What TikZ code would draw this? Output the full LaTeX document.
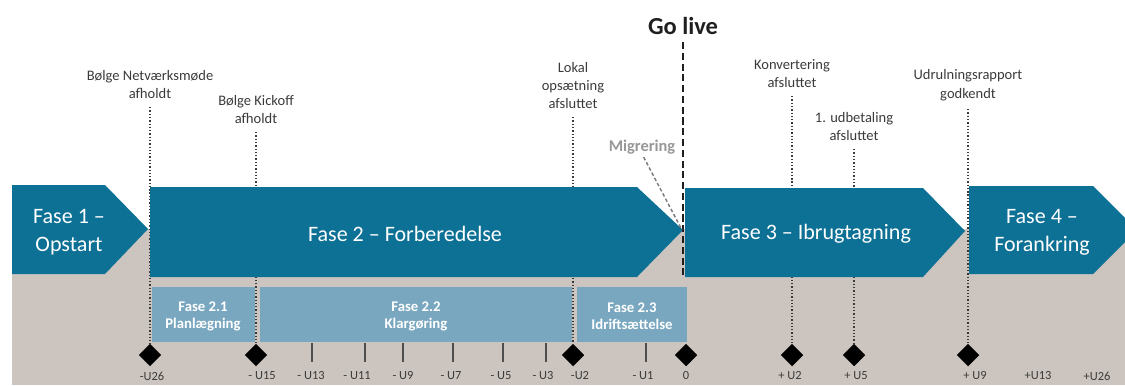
\documentclass[tikz,border=0pt]{standalone}
\usepackage{fontspec}
\setmainfont{Carlito}
\usetikzlibrary{shapes.geometric}
\definecolor{fasblue}{HTML}{0D7095}
\definecolor{subblue}{HTML}{79A7C0}
\definecolor{bggray}{HTML}{CCC5BF}
\definecolor{txtgray}{HTML}{3A3A3A}
\definecolor{miggray}{HTML}{979797}
\begin{document}
\begin{tikzpicture}[x=0.03cm, y=-0.03cm]
    \useasboundingbox (0,0) rectangle (1125,385);
    \clip (0,0) rectangle (1125,385);
    \begin{scope}[phase/.style={text=white, align=center, font=\fontsize{18.8}{24}\selectfont},
        subtxt/.style={text=white, align=center, font=\bfseries\fontsize{12.6}{14.5}\selectfont},
        ms/.style={text=txtgray, align=center, inner sep=0pt, anchor=south, font=\fontsize{12.4}{15.6}\selectfont},
        dia/.style={diamond, fill=black, inner sep=0pt, minimum size=0.68cm},
        msline/.style={draw=txtgray, line width=1.1pt, dash pattern=on 1.1pt off 1.7pt, shorten <=7pt},
        tick/.style={draw=txtgray!90, line width=1.6pt},
        wk/.style={text=txtgray, font=\fontsize{10.6}{12}\selectfont, inner sep=0pt}]
        \fill[bggray] (12,229) rectangle (1125,385);
        \node[dia] (d1) at (150,355) {};
        \node[dia] (d2) at (256,355) {};
        \node[dia] (d3) at (573,355) {};
        \node[dia] (d4) at (686,355) {};
        \node[dia] (d5) at (792,355) {};
        \node[dia] (d6) at (854,355) {};
        \node[dia] (d7) at (968,355) {};
        \node[ms] (m1) at (150,99) {Bølge Netværksmøde\\afholdt};
        \node[ms] (m2) at (256,124) {Bølge Kickoff\\afholdt};
        \node[ms] (m3) at (573,109) {Lokal\\opsætning\\afsluttet};
        \node[ms] (m4) at (792,88) {Konvertering\\afsluttet};
        \node[ms] (m5) at (854,141) {1. udbetaling\\afsluttet};
        \node[ms] (m6) at (968,101) {Udrulningsrapport\\godkendt};
        \draw[msline] (m1.south) -- (d1.north);
        \draw[msline] (m2.south) -- (d2.north);
        \draw[msline] (m3.south) -- (d3.north);
        \draw[msline] (m4.south) -- (d5.north);
        \draw[msline] (m5.south) -- (d6.north);
        \draw[msline] (m6.south) -- (d7.north);

        \fill[fasblue] (12,185) -- (105,185) -- (148,229) -- (105,274) -- (12,274) -- cycle;
        \fill[fasblue] (150,187) -- (637,187) -- (683,230) -- (637,277) -- (150,277) -- cycle;
        \fill[fasblue] (685,188) -- (923,188) -- (965,231) -- (923,277) -- (685,277) -- cycle;
        \fill[fasblue] (969,186) -- (1093,186) -- (1137,230) -- (1093,274) -- (969,274) -- cycle;
        \node[phase] (f1) at (69,232) {Fase 1 –\\Opstart};
        \node[phase] (f2) at (405,234) {Fase 2 – Forberedelse};
        \node[phase] (f3) at (816,234) {Fase 3 – Ibrugtagning};
        \node[phase] (f4) at (1042,232) {Fase 4 –\\Forankring};

        \fill[subblue] (152,287) rectangle (255,342);
        \fill[subblue] (260,287) rectangle (572,342);
        \fill[subblue] (577,287) rectangle (687,342);
        \node[subtxt] (s1) at (203,316) {Fase 2.1\\Planlægning};
        \node[subtxt] (s2) at (416,316) {Fase 2.2\\Klargøring};
        \node[subtxt] (s3) at (632,316) {Fase 2.3\\Idriftsættelse};

        \node[anchor=base, inner sep=0pt, text=black!88, font=\bfseries\fontsize{20.9}{24}\selectfont] (golive) at (683,34) {Go live};
        \coordinate (goend) at (683,279);
        \draw[black!88, line width=2.5pt, dash pattern=on 6pt off 3.2pt, shorten <=6.5pt] (golive.south) -- (goend);
        \node[anchor=base, inner sep=0pt, text=miggray, font=\bfseries\fontsize{14}{16}\selectfont] (mig) at (642,151) {Migrering};
        \coordinate (f2tip) at (682,230);
        \draw[miggray!80!black, line width=1.2pt, dash pattern=on 3pt off 2pt, shorten <=3pt] (mig.south) -- (f2tip);

        \foreach \x in {312,365,403,453,503,546,646}
            \draw[tick] (\x,343) -- (\x,362);
        \foreach \x/\t [count=\i] in {152/-U26, 262/- U15, 311/- U13, 357/- U11, 403/- U9, 451/- U7, 501/- U5, 543/- U3, 580/-U2, 643/- U1, 686/0, 790/+ U2, 856/+ U5, 975/+ U9, 1038/+U13, 1097/+U26}
            \node[wk] (w\i) at (\x,376) {\t};
    \end{scope}
\end{tikzpicture}
\end{document}
